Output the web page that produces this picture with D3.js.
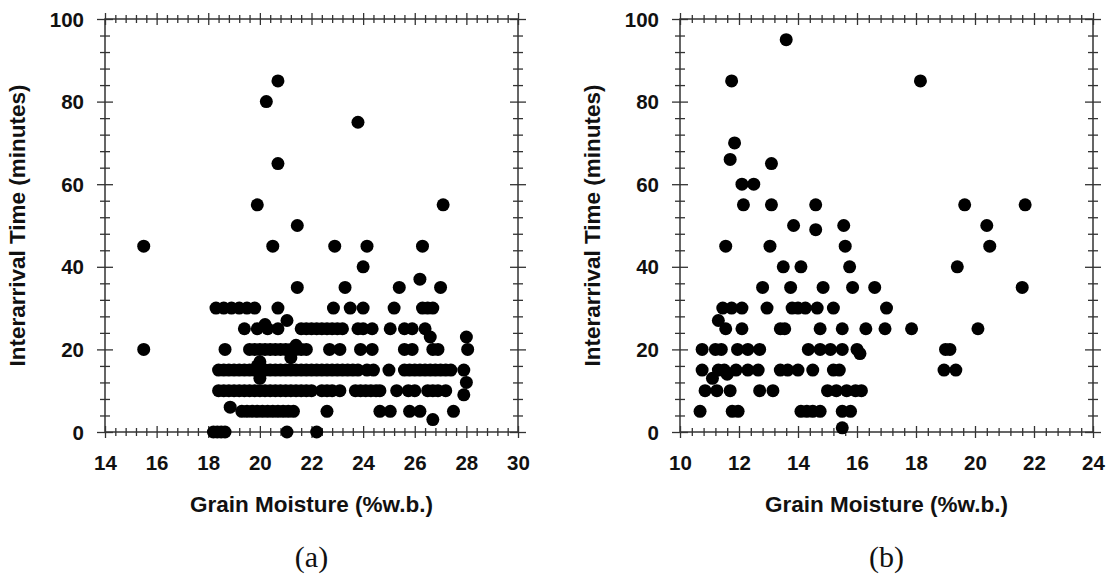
<!DOCTYPE html>
<html>
<head>
<meta charset="utf-8">
<script src="https://cdn.jsdelivr.net/npm/d3@7"></script>
<style>
  body { margin: 0; background: #fff; }
  svg text { font-family: "Liberation Sans", Arial, sans-serif; font-weight: bold; fill: #111; }
  svg text.tag { font-family: "Liberation Serif", "Times New Roman", serif; font-weight: normal; }
</style>
</head>
<body>
<div id="chart"></div>
<script>
// panel (a): grain moisture vs interarrival time
const pointsA = [
  [18.2,0],[18.35,0],[18.5,0],[18.65,0],[21.05,0],[22.2,0],
  [26.7,3],
  [19.3,5],[19.5,5],[19.7,5],[19.9,5],[20.1,5],[20.3,5],[20.5,5],[20.7,5],[20.9,5],[21.1,5],[21.3,5],
  [22.6,5],[24.65,5],[25.05,5],[25.8,5],[26.2,5],[27.5,5],
  [18.85,6],[27.9,9],
  [18.4,10],[18.6,10],[18.8,10],[19.0,10],[19.2,10],[19.4,10],[19.6,10],[19.8,10],[20.0,10],[20.2,10],
  [20.4,10],[20.6,10],[20.8,10],[21.0,10],[21.2,10],[21.4,10],[21.6,10],[21.8,10],[22.0,10],[22.4,10],
  [22.6,10],[22.8,10],[23.1,10],[23.7,10],[23.9,10],[24.1,10],[24.3,10],[24.5,10],[24.65,10],[25.3,10],
  [25.75,10],[26.0,10],[26.5,10],[26.7,10],[26.9,10],[27.2,10],
  [28.0,12],[20.0,13],
  [18.4,15],[18.6,15],[18.8,15],[19.0,15],[19.2,15],[19.4,15],[19.6,15],[19.8,15],[20.0,15],[20.2,15],
  [20.4,15],[20.6,15],[20.8,15],[21.0,15],[21.2,15],[21.4,15],[21.6,15],[21.8,15],[22.0,15],[22.2,15],
  [22.4,15],[22.6,15],[22.8,15],[23.0,15],[23.2,15],[23.4,15],[23.6,15],[23.8,15],[24.15,15],[24.4,15],
  [25.0,15],[25.6,15],[25.8,15],[26.0,15],[26.2,15],[26.4,15],[26.6,15],[26.8,15],[27.0,15],[27.2,15],
  [27.4,15],[27.9,15],
  [19.9,16],[20.0,17],[21.2,18],[21.4,21],
  [15.5,20],[18.65,20],[19.6,20],[19.8,20],[20.0,20],[20.2,20],[20.4,20],[20.6,20],[20.8,20],[21.0,20],
  [21.2,20],[21.4,20],[21.6,20],[21.8,20],[22.7,20],[23.1,20],[23.9,20],[24.35,20],[25.6,20],[25.9,20],
  [26.7,20],[26.9,20],[28.05,20],
  [26.6,23],[28.0,23],
  [19.4,25],[19.9,25],[20.3,25],[20.7,25],[21.6,25],[21.8,25],[22.0,25],[22.2,25],[22.4,25],[22.6,25],
  [22.8,25],[23.0,25],[23.2,25],[23.8,25],[24.0,25],[24.35,25],[25.05,25],[25.6,25],[25.9,25],[26.4,25],
  [20.2,26],[21.05,27],
  [18.3,30],[18.6,30],[18.9,30],[19.2,30],[19.5,30],[19.8,30],[20.7,30],[22.85,30],[23.5,30],[24.0,30],
  [25.2,30],[26.3,30],[26.5,30],[26.7,30],
  [21.45,35],[23.3,35],[25.4,35],[27.0,35],
  [26.2,37],[24.0,40],
  [15.5,45],[20.5,45],[22.9,45],[24.15,45],[26.3,45],
  [21.45,50],[19.9,55],[27.1,55],[20.7,65],[23.8,75],[20.25,80],[20.7,85]
];

// panel (b)
const pointsB = [
  [13.6,95],[11.75,85],[18.15,85],[11.85,70],[11.7,66],[13.1,65],[12.1,60],[12.5,60],
  [12.15,55],[13.1,55],[14.6,55],[19.65,55],[21.7,55],
  [13.85,50],[15.55,50],[20.4,50],[14.6,49],
  [11.55,45],[13.05,45],[15.6,45],[20.5,45],
  [13.5,40],[14.1,40],[15.75,40],[19.4,40],
  [12.8,35],[13.75,35],[14.85,35],[15.85,35],[16.6,35],[21.6,35],
  [11.45,30],[11.75,30],[12.1,30],[12.95,30],[13.8,30],[14.0,30],[14.25,30],[14.65,30],[15.2,30],[17.0,30],
  [11.3,27],
  [11.55,25],[12.1,25],[13.4,25],[13.55,25],[14.75,25],[15.5,25],[16.3,25],[16.95,25],[17.85,25],[20.1,25],
  [10.75,20],[11.2,20],[11.4,20],[11.95,20],[12.3,20],[12.7,20],[14.35,20],[14.75,20],[15.1,20],[15.5,20],
  [16.0,20],[19.0,20],[19.15,20],
  [16.1,19],
  [10.75,15],[11.3,15],[11.5,15],[11.9,15],[12.3,15],[12.65,15],[13.4,15],[13.65,15],[14.0,15],[14.5,15],
  [15.2,15],[15.4,15],[18.95,15],[19.35,15],
  [11.6,14],[11.1,13],
  [10.85,10],[11.25,10],[11.7,10],[12.7,10],[13.15,10],[15.0,10],[15.3,10],[15.65,10],[15.95,10],[16.15,10],
  [10.68,5],[11.77,5],[11.97,5],[14.1,5],[14.3,5],[14.5,5],[14.75,5],[15.5,5],[15.78,5],
  [15.5,1]
];

const xTicksA = [14,16,18,20,22,24,26,28,30];
const xTicksB = [10,12,14,16,18,20,22,24];
const yTicks = [0,20,40,60,80,100];

const W = 1110, H = 575;
const plotTop = 19, plotBottom = 432, plotW = 413;

const svg = d3.select('#chart')
  .append('svg')
  .attr('width', W)
  .attr('height', H);

function cleanAxis(g){
  g.selectAll('.domain').remove();
  g.selectAll('.tick line').attr('stroke', '#333').attr('stroke-width', 1.3);
}

function drawPanel(left, xTicks, points, tag){
  const x = d3.scaleLinear().domain([xTicks[0], xTicks[xTicks.length-1]]).range([left, left + plotW]);
  const y = d3.scaleLinear().domain([0, 100]).range([plotBottom, plotTop]);

  const xMinor = d3.range(xTicks[0], xTicks[xTicks.length-1] + 0.01, 0.4)
    .map(v => Math.round(v*10)/10)
    .filter(v => !xTicks.includes(v));
  const yMinor = d3.range(0, 101, 4).filter(v => v % 20 !== 0);

  const g = svg.append('g').attr('class', 'panel');

  // frame
  g.append('rect')
    .attr('x', left).attr('y', plotTop)
    .attr('width', plotW).attr('height', plotBottom - plotTop)
    .attr('fill', 'none').attr('stroke', '#333').attr('stroke-width', 1.5);

  // horizontal axes (bottom with labels, top mirrored)
  [[plotBottom, true], [plotTop, false]].forEach(([yy, labels]) => {
    const major = g.append('g').attr('transform', `translate(0,${yy})`)
      .call(d3.axisBottom(x).tickValues(xTicks).tickSize(6).tickFormat(labels ? d3.format('d') : ''));
    cleanAxis(major);
    major.selectAll('.tick line').attr('y1', -6).attr('y2', 6);
    major.selectAll('.tick text')
      .attr('y', 38).attr('dy', 0)
      .style('font-size', '20.5px');

    const minor = g.append('g').attr('transform', `translate(0,${yy})`)
      .call(d3.axisBottom(x).tickValues(xMinor).tickSize(4).tickFormat(''));
    cleanAxis(minor);
    minor.selectAll('.tick line').attr('y1', -4).attr('y2', 4);
  });

  // vertical axes (left with labels, right mirrored)
  [[left, true], [left + plotW, false]].forEach(([xx, labels]) => {
    const major = g.append('g').attr('transform', `translate(${xx},0)`)
      .call(d3.axisLeft(y).tickValues(yTicks).tickSize(8).tickFormat(labels ? d3.format('d') : ''));
    cleanAxis(major);
    major.selectAll('.tick line').attr('x1', -8).attr('x2', 8);
    major.selectAll('.tick text')
      .attr('x', -21).attr('dy', '0.35em')
      .style('font-size', '20.5px');

    const minor = g.append('g').attr('transform', `translate(${xx},0)`)
      .call(d3.axisLeft(y).tickValues(yMinor).tickSize(5).tickFormat(''));
    cleanAxis(minor);
    minor.selectAll('.tick line').attr('x1', -5).attr('x2', 5);
  });

  // points
  g.selectAll('.dot')
    .data(points)
    .enter()
    .append('circle')
    .attr('class', 'dot')
    .attr('cx', d => x(d[0]))
    .attr('cy', d => y(d[1]))
    .attr('r', 6.5)
    .attr('fill', '#000');

  // titles
  const cx = left + plotW / 2;
  g.append('text')
    .attr('x', cx).attr('y', 512)
    .attr('text-anchor', 'middle')
    .style('font-size', '22.5px')
    .text('Grain Moisture (%w.b.)');

  g.append('text')
    .attr('transform', `translate(${left - 80},${(plotTop + plotBottom) / 2}) rotate(-90)`)
    .attr('text-anchor', 'middle')
    .style('font-size', '22.5px')
    .text('Interarrival Time (minutes)');

  g.append('text')
    .attr('class', 'tag')
    .attr('x', cx).attr('y', 567)
    .attr('text-anchor', 'middle')
    .style('font-size', '30px')
    .text(tag);
}

drawPanel(105, xTicksA, pointsA, '(a)');
drawPanel(680, xTicksB, pointsB, '(b)');
</script>
</body>
</html>
